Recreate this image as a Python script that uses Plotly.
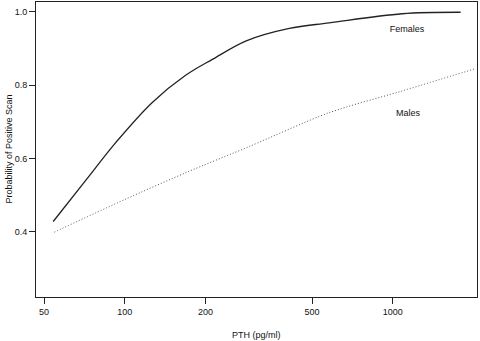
import plotly.graph_objects as go

# Data
female_pth = [54.1, 72, 92.7, 126.7, 168.7, 213, 284, 411, 579, 1083, 1790]
female_prob = [0.428, 0.543, 0.644, 0.753, 0.827, 0.871, 0.921, 0.955, 0.970, 0.995, 0.999]
male_pth = [54.6, 100, 168.7, 292, 579, 1057, 2010]
male_prob = [0.399, 0.488, 0.561, 0.633, 0.725, 0.782, 0.844]

x_ticks = [50, 100, 200, 500, 1000]
y_ticks = [0.4, 0.6, 0.8, 1.0]
y_tick_labels = ["0.4", "0.6", "0.8", "1.0"]

labels = ["Females", "Males"]
label_x = [1130, 1140]
label_y = [0.951, 0.721]

x_title = "PTH (pg/ml)"
y_title = "Probability of Positive Scan"

FONT = "Liberation Sans, Arial, sans-serif"

fig = go.Figure()
fig.add_trace(go.Scatter(x=female_pth, y=female_prob, mode="lines",
                         line=dict(color="#222222", width=1.3, shape="spline", smoothing=1.0),
                         showlegend=False))
fig.add_trace(go.Scatter(x=male_pth, y=male_prob, mode="lines",
                         line=dict(color="#555555", width=1.0, dash="1px,2px", shape="spline", smoothing=0.8),
                         showlegend=False))
fig.add_trace(go.Scatter(x=label_x, y=label_y, mode="text", text=labels,
                         textfont=dict(family=FONT, size=9, color="#111111"),
                         textposition="middle center", showlegend=False))

axis_common = dict(showline=True, linecolor="#222222", linewidth=1, mirror=True,
                   ticks="outside", ticklen=6, tickcolor="#222222", tickwidth=1,
                   showgrid=False, zeroline=False, automargin=False,
                   tickfont=dict(family=FONT, size=9, color="#111111"))

fig.update_xaxes(type="log", range=[1.669, 3.314], tickvals=x_ticks,
                 ticktext=[str(v) for v in x_ticks], **axis_common)
fig.update_yaxes(range=[0.222, 1.027], tickvals=y_ticks, ticktext=y_tick_labels,
                 **axis_common)

fig.add_annotation(text=x_title, xref="paper", yref="paper", x=0.5, y=0,
                   yshift=-38, showarrow=False, xanchor="center", yanchor="middle",
                   font=dict(family=FONT, size=9, color="#111111"))
fig.add_annotation(text=y_title, xref="paper", yref="paper", x=0, y=0.5,
                   xshift=-28, showarrow=False, textangle=-90, xanchor="center", yanchor="middle",
                   font=dict(family=FONT, size=9, color="#111111"))

fig.update_layout(width=480, height=341, margin=dict(l=36, r=3, t=2, b=44),
                  plot_bgcolor="white", paper_bgcolor="white")

fig.write_html("out.html", config={"displayModeBar": False},
               post_script="document.body.style.margin='0';document.body.style.overflow='hidden';")
